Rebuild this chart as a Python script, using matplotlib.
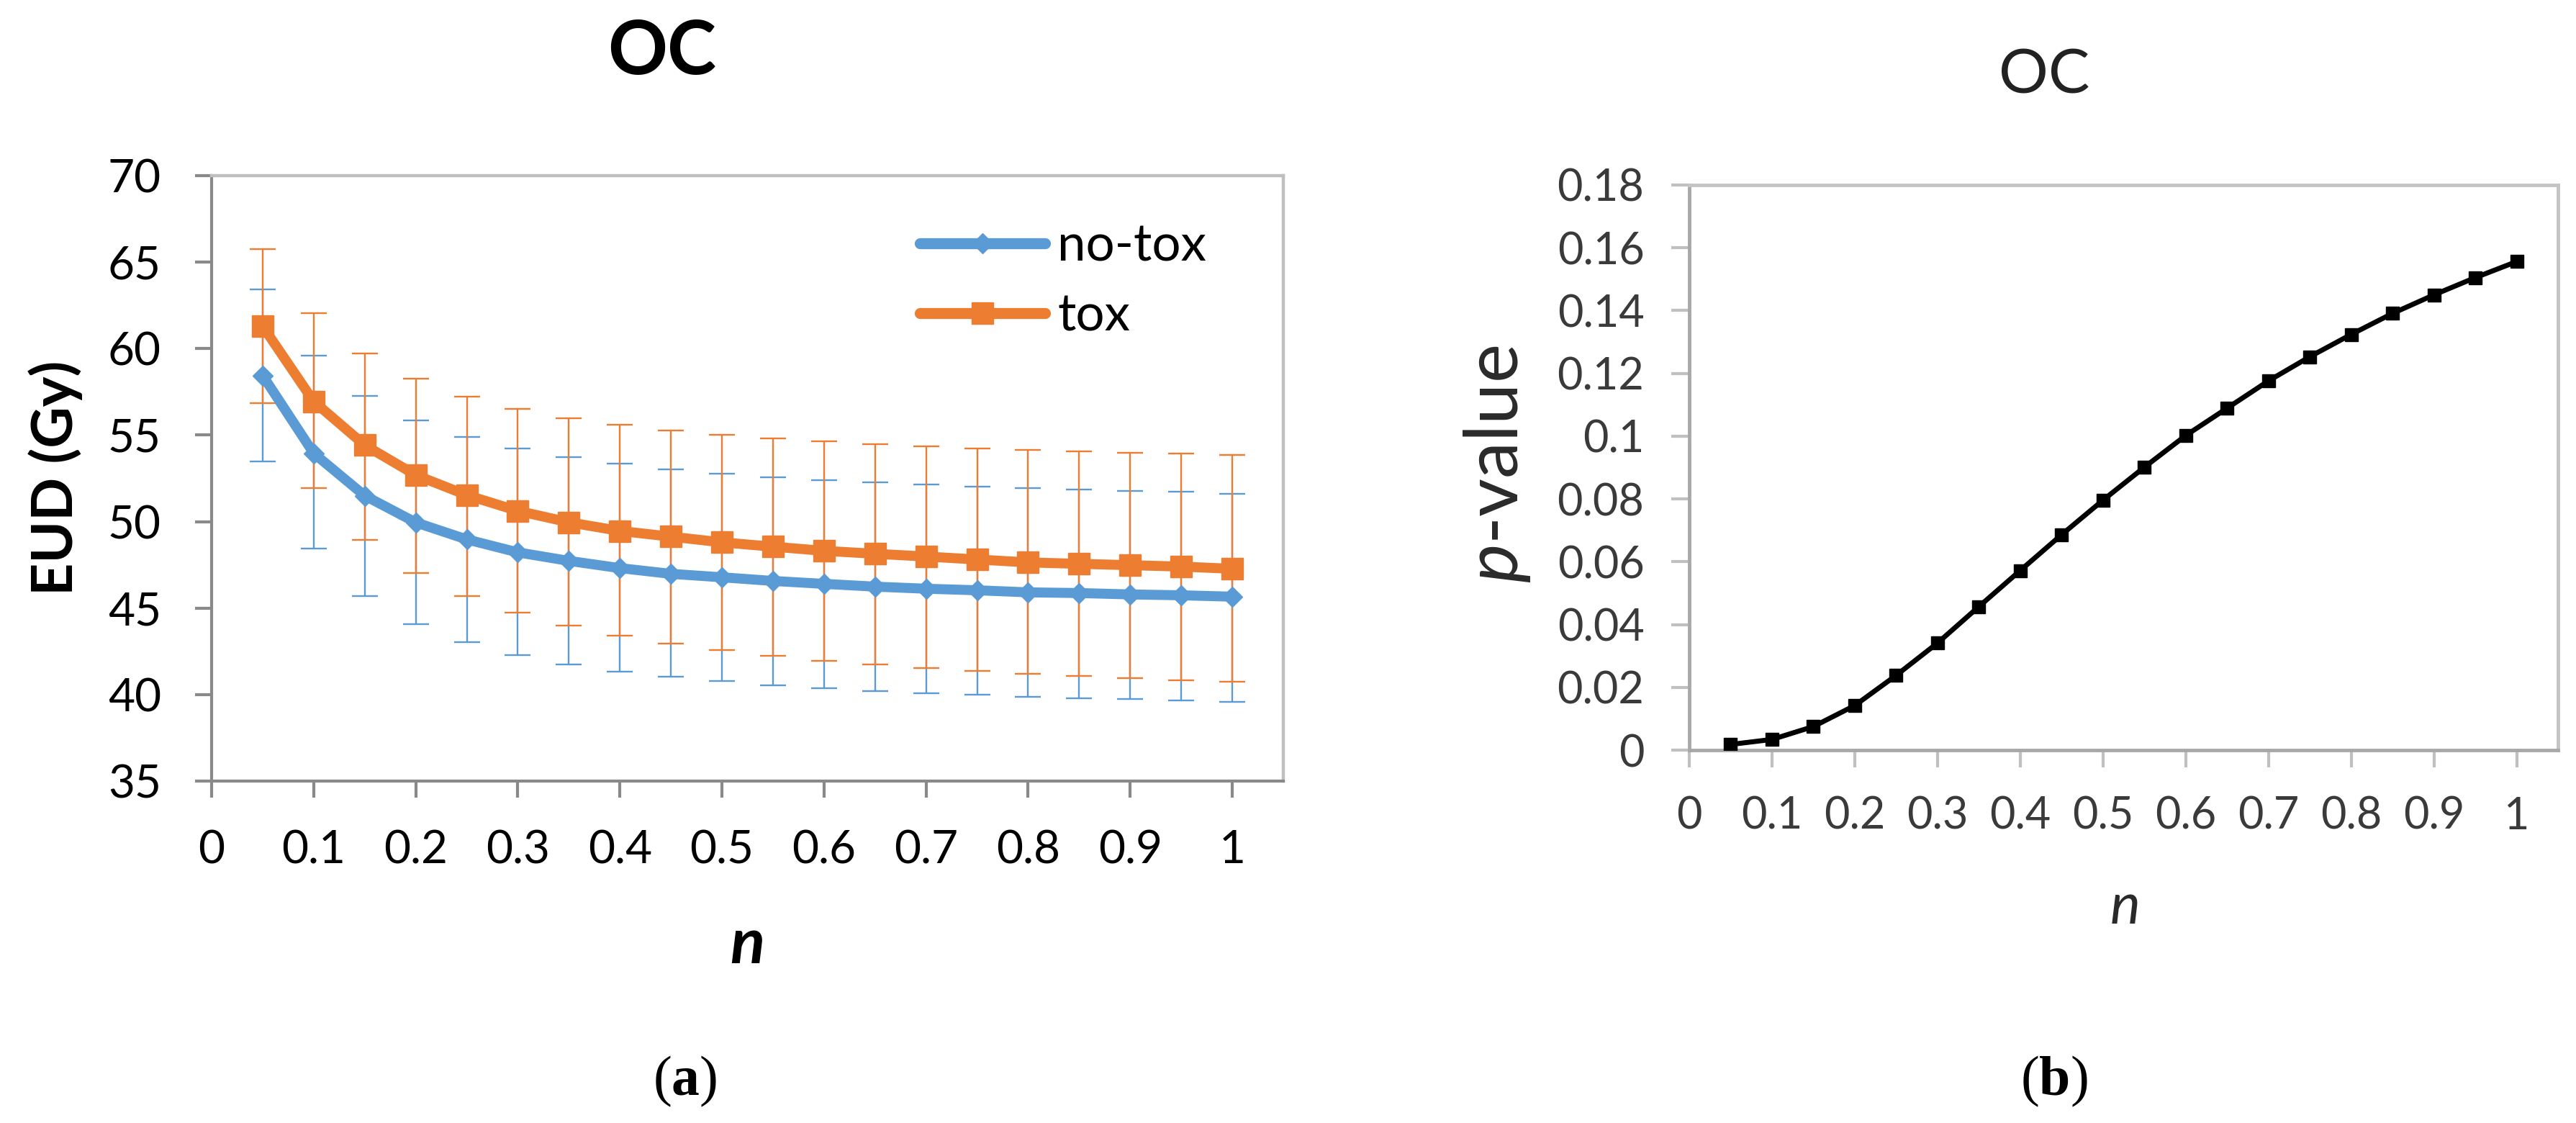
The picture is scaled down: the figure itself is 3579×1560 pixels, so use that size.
import matplotlib
matplotlib.use("Agg")
import matplotlib.pyplot as plt
import numpy as np

plt.rcParams['font.family'] = ['Lato', 'DejaVu Sans']
plt.rcParams['mathtext.fontset'] = 'custom'
plt.rcParams['mathtext.rm'] = 'Liberation Serif'
plt.rcParams['mathtext.bf'] = 'Liberation Serif:bold'
plt.rcParams['mathtext.it'] = 'Lato:italic'

# ---------------- data ----------------
n_values = [0.05, 0.10, 0.15, 0.20, 0.25, 0.30, 0.35, 0.40, 0.45, 0.50,
            0.55, 0.60, 0.65, 0.70, 0.75, 0.80, 0.85, 0.90, 0.95, 1.00]

notox_mean = [58.45, 53.95, 51.5, 49.95, 48.97, 48.22, 47.73, 47.31, 46.98, 46.78,
              46.57, 46.40, 46.24, 46.12, 46.03, 45.91, 45.87, 45.79, 45.74, 45.66]
notox_upper = [63.42, 59.58, 57.27, 55.87, 54.88, 54.21, 53.72, 53.35, 53.02, 52.77,
               52.56, 52.40, 52.27, 52.15, 52.02, 51.94, 51.86, 51.78, 51.74, 51.61]
notox_lower = [53.46, 48.43, 45.70, 44.09, 43.02, 42.27, 41.74, 41.32, 41.03, 40.79,
               40.54, 40.37, 40.21, 40.08, 40.00, 39.88, 39.79, 39.75, 39.67, 39.59]

tox_mean = [61.30, 56.95, 54.42, 52.69, 51.53, 50.62, 49.96, 49.46, 49.13, 48.80,
            48.55, 48.31, 48.14, 47.98, 47.81, 47.64, 47.56, 47.48, 47.40, 47.27]
tox_upper = [65.75, 62.05, 59.71, 58.26, 57.23, 56.53, 55.99, 55.58, 55.25, 55.00,
             54.79, 54.63, 54.46, 54.34, 54.21, 54.13, 54.05, 53.97, 53.93, 53.84]
tox_lower = [56.85, 51.92, 48.93, 47.02, 45.70, 44.75, 44.01, 43.39, 42.93, 42.56,
             42.23, 41.94, 41.74, 41.53, 41.36, 41.20, 41.07, 40.95, 40.83, 40.74]

p_values = [0.0018, 0.0034, 0.0075, 0.0142, 0.0238, 0.0341, 0.0457, 0.0572, 0.0686, 0.0796,
            0.0901, 0.1002, 0.1089, 0.1176, 0.1253, 0.1324, 0.1391, 0.1450, 0.1505, 0.1556]

x_ticks = [0, 0.1, 0.2, 0.3, 0.4, 0.5, 0.6, 0.7, 0.8, 0.9, 1.0]
x_ticklabels = ["0", "0.1", "0.2", "0.3", "0.4", "0.5", "0.6", "0.7", "0.8", "0.9", "1"]
eud_ticks = [35, 40, 45, 50, 55, 60, 65, 70]
eud_ticklabels = ["35", "40", "45", "50", "55", "60", "65", "70"]
p_ticks = [0, 0.02, 0.04, 0.06, 0.08, 0.10, 0.12, 0.14, 0.16, 0.18]
p_ticklabels = ["0", "0.02", "0.04", "0.06", "0.08", "0.1", "0.12", "0.14", "0.16", "0.18"]

series_labels = ["no-tox", "tox"]
title_text = "OC"

BLUE = "#5B9BD5"
ORANGE = "#ED7D31"

W, H = 3580, 1560
fig = plt.figure(figsize=(W / 100, H / 100), dpi=100)

# ---------------- panel (a) ----------------
ax1 = fig.add_axes([294 / W, 1 - 1085 / H, (1783 - 294) / W, 841 / H])
x = np.array(n_values)

def err(mean, upper, lower):
    m = np.array(mean)
    return np.vstack([m - np.array(lower), np.array(upper) - m])

ax1.errorbar(x, notox_mean, yerr=err(notox_mean, notox_upper, notox_lower), fmt='none',
             ecolor=BLUE, elinewidth=1.7, capsize=13, capthick=1.7, zorder=2)
ax1.errorbar(x, tox_mean, yerr=err(tox_mean, tox_upper, tox_lower), fmt='none',
             ecolor=ORANGE, elinewidth=1.7, capsize=13, capthick=1.7, zorder=2)
ax1.plot(x, notox_mean, color=BLUE, lw=10, marker='D', markersize=14,
         solid_capstyle='round', label=series_labels[0], zorder=3)
ax1.plot(x, tox_mean, color=ORANGE, lw=10, marker='s', markersize=21,
         solid_capstyle='round', label=series_labels[1], zorder=4)

ax1.set_xlim(0, 1.05)
ax1.set_ylim(35, 70)
ax1.set_xticks(x_ticks)
ax1.set_xticklabels(x_ticklabels)
ax1.set_yticks(eud_ticks)
ax1.set_yticklabels(eud_ticklabels)
for s in ['left', 'bottom']:
    ax1.spines[s].set_color('#898989')
    ax1.spines[s].set_linewidth(3)
for s in ['top', 'right']:
    ax1.spines[s].set_color('#BFBFBF')
    ax1.spines[s].set_linewidth(3.2)
ax1.tick_params(axis='y', direction='out', length=16.5, width=3, color='#898989',
                pad=34, labelsize=46, labelcolor='black')
ax1.tick_params(axis='x', direction='out', length=16.5, width=3, color='#898989',
                pad=32, labelsize=46, labelcolor='black')

leg = ax1.legend(loc='upper left', bbox_to_anchor=(0.661, 0.922), frameon=False,
                 fontsize=51, handlelength=2.45, handletextpad=0.25, labelspacing=0.45,
                 borderpad=0, borderaxespad=0)
for line in leg.get_lines():
    line.set_linewidth(11)

fig.text(920 / W, 1 - 73 / H, title_text, fontsize=74, fontweight='bold',
         ha='center', va='center')
fig.text(77 / W, 1 - 664 / H, "EUD (Gy)", fontsize=57, fontweight='bold',
         rotation=90, ha='center', va='center')
fig.text(1038 / W, 1 - 1338 / H, "n", fontsize=64, fontweight='bold', style='italic',
         ha='center', va='baseline')
fig.text(952 / W, 1 - 1502 / H, r'$\mathrm{(}\mathbf{a}\mathrm{)}$', fontsize=56,
         ha='center', va='center')

# ---------------- panel (b) ----------------
ax2 = fig.add_axes([2347 / W, 1 - 1042 / H, (3554 - 2347) / W, 785 / H])
ax2.plot(x, p_values, color='black', lw=5, marker='s', markersize=13.5, zorder=3)
ax2.set_xlim(0, 1.05)
ax2.set_ylim(0, 0.18)
ax2.set_xticks(x_ticks)
ax2.set_xticklabels(x_ticklabels)
ax2.set_yticks(p_ticks)
ax2.set_yticklabels(p_ticklabels)
for s in ['left', 'bottom']:
    ax2.spines[s].set_color('#A8A8A8')
    ax2.spines[s].set_linewidth(3.5)
for s in ['top', 'right']:
    ax2.spines[s].set_color('#C4C4C4')
    ax2.spines[s].set_linewidth(3.5)
ax2.tick_params(axis='y', direction='out', length=18, width=3, color='#C0C0C0',
                pad=27, labelsize=44, labelcolor='#3a3a3a')
ax2.tick_params(axis='x', direction='out', length=17, width=3, color='#C0C0C0',
                pad=29, labelsize=44, labelcolor='#3a3a3a')

fig.text(2840 / W, 1 - 105 / H, title_text, fontsize=62, ha='center', va='center',
         color='#222222')
fig.text(2080 / W, 1 - 645 / H, r'$\mathit{p}$-value', fontsize=74, rotation=90,
         ha='center', va='center', color='#2a2a2a')
fig.text(2953 / W, 1 - 1283 / H, "n", fontsize=57, style='italic', ha='center',
         va='baseline', color='#2a2a2a')
fig.text(2854 / W, 1 - 1502 / H, r'$\mathrm{(}\mathbf{b}\mathrm{)}$', fontsize=56,
         ha='center', va='center')

fig.savefig("out.png", dpi=100)
